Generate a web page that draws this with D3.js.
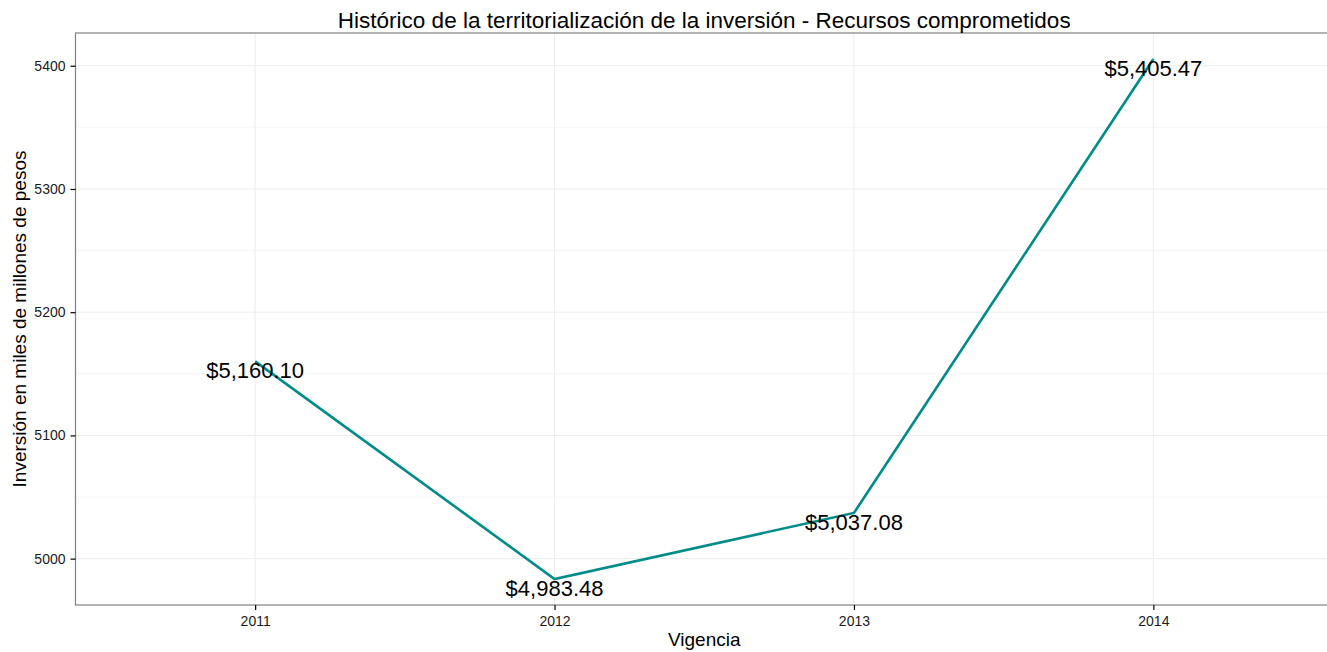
<!DOCTYPE html>
<html lang="es">
<head>
<meta charset="utf-8">
<script src="https://cdn.jsdelivr.net/npm/d3@7/dist/d3.min.js"></script>
<style>
  body { margin: 0; background: #fff; }
  text { font-family: Arial, "Liberation Sans", sans-serif; }
</style>
</head>
<body>
<script>
    var years = ['2011', '2012', '2013', '2014'];
    var values = [5160.10, 4983.48, 5037.08, 5405.47];
    var yTicks = [5000, 5100, 5200, 5300, 5400];
    var yMinor = [5050, 5150, 5250, 5350];

    var width = 1327, height = 652;
    // panel edges (right edge lies just past the picture, as in the reference)
    var pLeft = 75.5, pTop = 33, pBottom = 605, pRight = 1333;

    var svg = d3.select('body').append('svg')
            .attr('width', width)
            .attr('height', height);

    var lo = d3.min(values), hi = d3.max(values), pad = (hi - lo) * 0.05;
    var y = d3.scaleLinear()
            .domain([lo - pad, hi + pad])
            .range([pBottom, pTop]);

    var x = d3.scalePoint()
            .domain(years)
            .range([pLeft, pRight])
            .padding(0.6);

    // grid
    svg.selectAll('.minor').data(yMinor).enter().append('line')
            .attr('x1', pLeft).attr('x2', pRight)
            .attr('y1', function (d) { return y(d); })
            .attr('y2', function (d) { return y(d); })
            .attr('stroke', '#f6f6f6').attr('stroke-width', 1);
    svg.selectAll('.major').data(yTicks).enter().append('line')
            .attr('x1', pLeft).attr('x2', pRight)
            .attr('y1', function (d) { return y(d); })
            .attr('y2', function (d) { return y(d); })
            .attr('stroke', '#ececec').attr('stroke-width', 1);
    svg.selectAll('.vgrid').data(years).enter().append('line')
            .attr('x1', function (d) { return x(d); })
            .attr('x2', function (d) { return x(d); })
            .attr('y1', pTop).attr('y2', pBottom)
            .attr('stroke', '#ececec').attr('stroke-width', 1);

    // panel border
    svg.append('rect')
            .attr('x', pLeft).attr('y', pTop)
            .attr('width', pRight - pLeft).attr('height', pBottom - pTop)
            .attr('fill', 'none').attr('stroke', '#808080').attr('stroke-width', 1.2);

    // axes
    var yAxis = svg.append('g')
            .attr('transform', 'translate(' + pLeft + ',0)')
            .call(d3.axisLeft(y).tickValues(yTicks).tickSize(5).tickPadding(5).tickFormat(d3.format('d')));
    var xAxis = svg.append('g')
            .attr('transform', 'translate(0,' + pBottom + ')')
            .call(d3.axisBottom(x).tickSize(5).tickPadding(6));
    [xAxis, yAxis].forEach(function (g) {
        g.select('.domain').remove();
        g.selectAll('.tick line').attr('stroke', '#000').attr('stroke-width', 1.2);
        g.selectAll('.tick text').attr('fill', '#1a1a1a').style('font-size', '14px');
    });

    // line
    var line = d3.line()
            .x(function (d, i) { return x(years[i]); })
            .y(function (d) { return y(d); });
    svg.append('path')
            .datum(values)
            .attr('d', line)
            .attr('fill', 'none')
            .attr('stroke', '#008b8b')
            .attr('stroke-width', 2.6);

    // value labels
    var fmt = d3.format('$,.2f');
    svg.selectAll('.lab').data(values).enter().append('text')
            .attr('x', function (d, i) { return x(years[i]); })
            .attr('y', function (d) { return y(d); })
            .attr('dy', 17)
            .attr('text-anchor', 'middle')
            .style('font-size', '22px')
            .attr('fill', '#000')
            .text(function (d) { return fmt(d); });

    // titles
    svg.append('text')
            .attr('x', (pLeft + pRight) / 2).attr('y', 28)
            .attr('text-anchor', 'middle')
            .style('font-size', '22.5px')
            .text('Histórico de la territorialización de la inversión - Recursos comprometidos');
    svg.append('text')
            .attr('x', (pLeft + pRight) / 2).attr('y', 646)
            .attr('text-anchor', 'middle')
            .style('font-size', '19px')
            .text('Vigencia');
    svg.append('text')
            .attr('transform', 'translate(26,' + (pTop + pBottom) / 2 + ') rotate(-90)')
            .attr('text-anchor', 'middle')
            .style('font-size', '19px')
            .text('Inversión en miles de millones de pesos');
</script>
</body>
</html>
